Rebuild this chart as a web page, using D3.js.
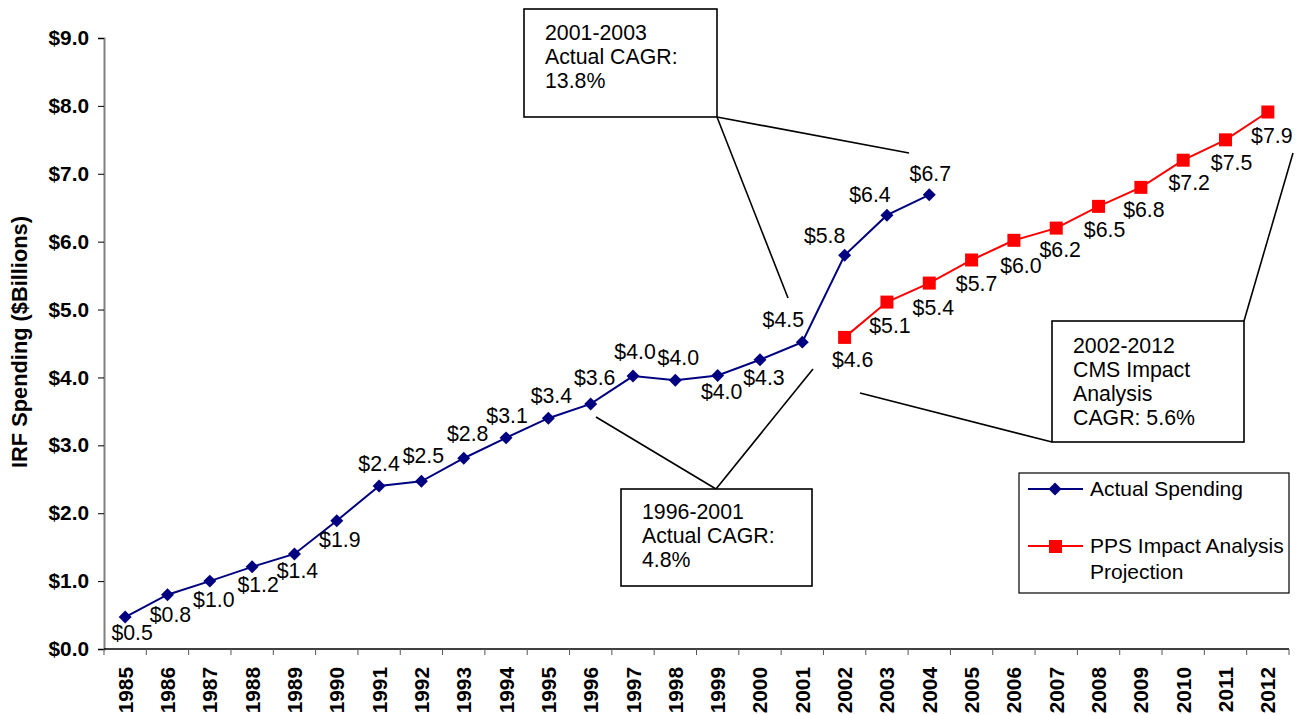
<!DOCTYPE html>
<html>
<head>
<meta charset="utf-8">
<script src="https://cdn.jsdelivr.net/npm/d3@7"></script>
<style>
  html, body { margin: 0; padding: 0; background: #fff; }
  svg { display: block; font-family: "Liberation Sans", Arial, sans-serif; }
</style>
</head>
<body>
<svg id="chart" width="1300" height="715"></svg>
<script>
// Years on the category axis
const years = ["1985","1986","1987","1988","1989","1990","1991","1992","1993","1994",
  "1995","1996","1997","1998","1999","2000","2001","2002","2003","2004",
  "2005","2006","2007","2008","2009","2010","2011","2012"];

// Actual IRF spending, $ billions (1985-2004)
const actualYears = ["1985","1986","1987","1988","1989","1990","1991","1992","1993","1994",
  "1995","1996","1997","1998","1999","2000","2001","2002","2003","2004"];
const actualValues = [0.47, 0.80, 1.00, 1.21, 1.40, 1.89, 2.40, 2.47, 2.81, 3.11,
  3.40, 3.61, 4.02, 3.96, 4.03, 4.26, 4.52, 5.80, 6.39, 6.69];

// PPS impact analysis projection, $ billions (2002-2012)
const projYears = ["2002","2003","2004","2005","2006","2007","2008","2009","2010","2011","2012"];
const projValues = [4.59, 5.11, 5.39, 5.73, 6.02, 6.20, 6.52, 6.80, 7.20, 7.50, 7.91];

// Y-axis tick values
const yTicks = [0, 1, 2, 3, 4, 5, 6, 7, 8, 9];

// Series names shown in the legend
const seriesNames = ["Actual Spending", "PPS Impact Analysis\nProjection"];

// Callout texts
const callouts = [
  ["2001-2003", "Actual CAGR:", "13.8%"],
  ["1996-2001", "Actual CAGR:", "4.8%"],
  ["2002-2012", "CMS Impact", "Analysis", "CAGR: 5.6%"]
];

// Value-label placement relative to each marker (dx, dy of the text centre/baseline)
const actualLabelPos = [
  [7,23],[3,27],[4,26],[6,25],[3,24],[3,26],[0,-15],[2,-18],[4,-17],[1,-15],
  [3,-15],[4,-19],[2,-17],[3,-15],[4,24],[4,25],[-19,-15],[-20,-12],[-17,-13],[1,-14]
];
const projLabelPos = [
  [8,30],[3,31],[4,32],[5,31],[7,33],[4,29],[6,31],[3,30],[6,30],[6,30],[4,31]
];

const svg = d3.select("#chart");
const fmt = v => "$" + d3.format(".1f")(v);

const x = d3.scaleBand().domain(years).range([104, 1289]).padding(0);
const y = d3.scaleLinear().domain([0, 9]).range([649, 38]);
const cx = yr => x(yr) + x.bandwidth() / 2;

const navy = "#000080", red = "#FF0000";

// Y axis
const yAxis = svg.append("g").attr("transform", "translate(104,0)")
  .call(d3.axisLeft(y).tickValues(yTicks).tickSize(6).tickPadding(9).tickFormat(fmt));
yAxis.select(".domain").attr("stroke", "#808080").attr("stroke-width", 2);
yAxis.selectAll(".tick line").attr("stroke", "#000").attr("stroke-width", 1);
yAxis.selectAll(".tick text").attr("font-size", 20.8).attr("font-weight", "bold")
  .attr("fill", "#000").attr("font-family", "'Liberation Sans', Arial, sans-serif");

// X axis: ticks on band boundaries, labels rotated
const xg = svg.append("g").attr("transform", "translate(0,649)");
xg.append("line").attr("x1", 104).attr("x2", 1289).attr("y1", 0).attr("y2", 0)
  .attr("stroke", "#000").attr("stroke-width", 1.5);
const bounds = years.map(d => x(d)).concat([x(years[years.length - 1]) + x.bandwidth()]);
xg.selectAll("line.tk").data(bounds).join("line").attr("class", "tk")
  .attr("x1", d => d).attr("x2", d => d).attr("y1", 0).attr("y2", 6)
  .attr("stroke", "#555").attr("stroke-width", 1);
xg.selectAll("text").data(years).join("text")
  .attr("transform", d => `translate(${cx(d)},18) rotate(-90)`)
  .attr("text-anchor", "end").attr("dy", "0.36em")
  .attr("font-size", 20.8).attr("font-weight", "bold").attr("fill", "#000")
  .text(d => d);

// Y axis title
svg.append("text")
  .attr("transform", "translate(19,342) rotate(-90)")
  .attr("text-anchor", "middle").attr("dy", "0.36em")
  .attr("font-size", 21.8).attr("font-weight", "bold").attr("fill", "#000")
  .text("IRF Spending ($Billions)");

// Callout boxes and leader lines
const calloutGroup = svg.append("g");
const boxes = [
  {x: 524, y: 9, w: 193, h: 108, tx: 545, ty: 40, lines: callouts[0]},
  {x: 621, y: 489, w: 191, h: 97, tx: 642, ty: 519, lines: callouts[1]},
  {x: 1052, y: 321, w: 192, h: 121, tx: 1073, ty: 353, lines: callouts[2]}
];
const leaders = [
  [717, 117, 788, 298], [717, 117, 909, 153],
  [716, 489, 596, 417], [716, 489, 813, 369],
  [1244, 321, 1293, 153], [1052, 442, 860, 393]
];
calloutGroup.selectAll("line").data(leaders).join("line")
  .attr("x1", d => d[0]).attr("y1", d => d[1]).attr("x2", d => d[2]).attr("y2", d => d[3])
  .attr("stroke", "#000").attr("stroke-width", 1.6);
boxes.forEach(b => {
  calloutGroup.append("rect").attr("x", b.x).attr("y", b.y).attr("width", b.w).attr("height", b.h)
    .attr("fill", "#fff").attr("stroke", "#000").attr("stroke-width", 1.6);
  const t = calloutGroup.append("text").attr("font-size", 21.3).attr("fill", "#000");
  b.lines.forEach((ln, i) => {
    t.append("tspan").attr("x", b.tx).attr("y", b.ty + i * 24).text(ln);
  });
});

// Series lines
const line = d3.line().x(d => cx(d[0])).y(d => y(d[1]));
const actual = actualYears.map((yr, i) => [yr, actualValues[i]]);
const proj = projYears.map((yr, i) => [yr, projValues[i]]);

svg.append("path").datum(actual).attr("d", line)
  .attr("fill", "none").attr("stroke", navy).attr("stroke-width", 2);
svg.append("path").datum(proj).attr("d", line)
  .attr("fill", "none").attr("stroke", red).attr("stroke-width", 2);

// Markers: navy diamonds (rotated squares) and red squares
svg.append("g").selectAll("path").data(actual).join("path")
  .attr("transform", d => `translate(${cx(d[0])},${y(d[1])}) rotate(45)`)
  .attr("d", d3.symbol().type(d3.symbolSquare).size(84))
  .attr("fill", navy);
svg.append("g").selectAll("rect").data(proj).join("rect")
  .attr("x", d => cx(d[0]) - 6.5).attr("y", d => y(d[1]) - 6.5)
  .attr("width", 13).attr("height", 13).attr("fill", red);

// Value labels
svg.append("g").selectAll("text").data(actual).join("text")
  .attr("x", (d, i) => cx(d[0]) + actualLabelPos[i][0])
  .attr("y", (d, i) => y(d[1]) + actualLabelPos[i][1])
  .attr("text-anchor", "middle").attr("font-size", 21.3).attr("fill", "#000")
  .text(d => fmt(d[1]));
svg.append("g").selectAll("text").data(proj).join("text")
  .attr("x", (d, i) => cx(d[0]) + projLabelPos[i][0])
  .attr("y", (d, i) => y(d[1]) + projLabelPos[i][1])
  .attr("text-anchor", "middle").attr("font-size", 21.3).attr("fill", "#000")
  .text(d => fmt(d[1]));

// Legend
const lg = svg.append("g");
lg.append("rect").attr("x", 1019).attr("y", 473).attr("width", 270).attr("height", 120)
  .attr("fill", "#fff").attr("stroke", "#000").attr("stroke-width", 1.2);
lg.append("line").attr("x1", 1028).attr("x2", 1083).attr("y1", 489).attr("y2", 489)
  .attr("stroke", navy).attr("stroke-width", 2);
lg.append("path").attr("transform", "translate(1055,489) rotate(45)")
  .attr("d", d3.symbol().type(d3.symbolSquare).size(84)).attr("fill", navy);
lg.append("line").attr("x1", 1028).attr("x2", 1083).attr("y1", 546).attr("y2", 546)
  .attr("stroke", red).attr("stroke-width", 2);
lg.append("rect").attr("x", 1049).attr("y", 540).attr("width", 13).attr("height", 13).attr("fill", red);
lg.append("text").attr("x", 1090).attr("y", 496).attr("font-size", 21).attr("fill", "#000")
  .text(seriesNames[0]);
const t2 = lg.append("text").attr("font-size", 21).attr("fill", "#000");
seriesNames[1].split("\n").forEach((s, i) => {
  t2.append("tspan").attr("x", 1090).attr("y", 553 + i * 26).text(s);
});
</script>
</body>
</html>
